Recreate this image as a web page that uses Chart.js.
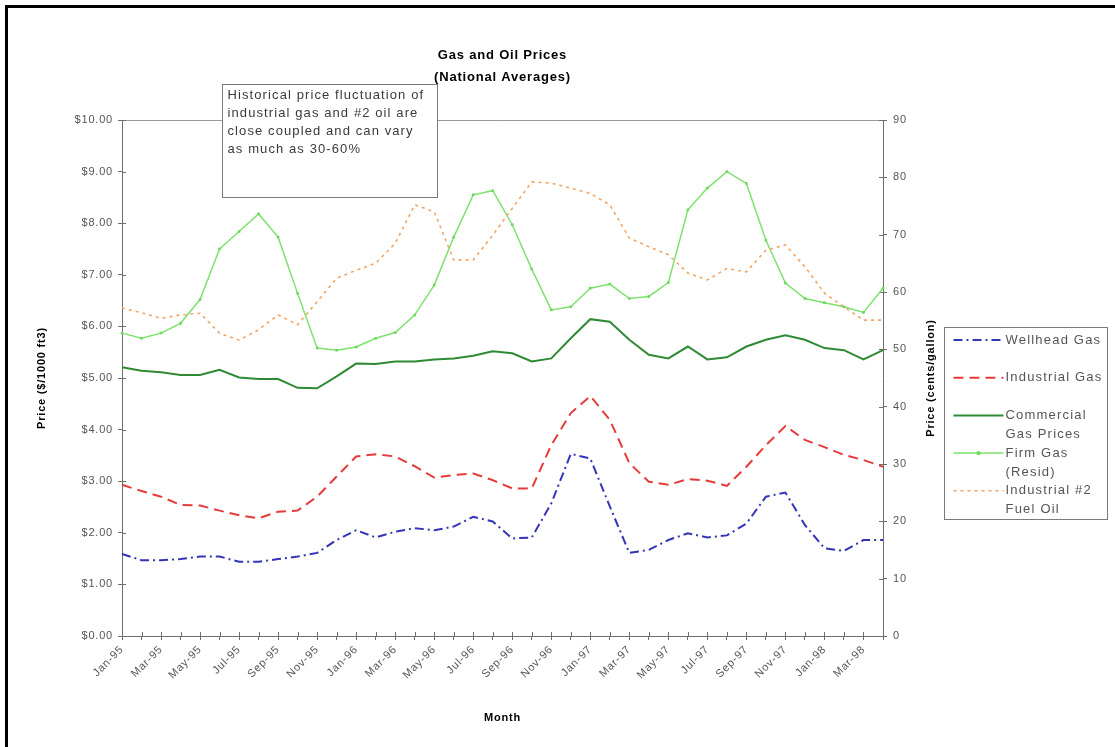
<!DOCTYPE html>
<html>
<head>
<meta charset="utf-8">
<title>Gas and Oil Prices</title>
<script src="https://cdn.jsdelivr.net/npm/chart.js@4.4.1/dist/chart.umd.min.js"></script>
<style>
  html, body { margin: 0; padding: 0; background: #fff; overflow: hidden; }
  #wrap { position: relative; width: 1115px; height: 747px; }
  #c { position: absolute; left: 0; top: 0; }
  #frame { position: absolute; left: 5px; top: 5px; width: 1300px; height: 900px;
           border-left: 3px solid #000; border-top: 3px solid #000; pointer-events: none; }
</style>
</head>
<body>
<div id="wrap">
  <canvas id="c" width="1115" height="747"></canvas>
  <div id="frame"></div>
</div>
<script>
// Monthly categories, Jan 1995 - Apr 1998
const months = [
  'Jan-95','Feb-95','Mar-95','Apr-95','May-95','Jun-95','Jul-95','Aug-95','Sep-95','Oct-95','Nov-95','Dec-95',
  'Jan-96','Feb-96','Mar-96','Apr-96','May-96','Jun-96','Jul-96','Aug-96','Sep-96','Oct-96','Nov-96','Dec-96',
  'Jan-97','Feb-97','Mar-97','Apr-97','May-97','Jun-97','Jul-97','Aug-97','Sep-97','Oct-97','Nov-97','Dec-97',
  'Jan-98','Feb-98','Mar-98','Apr-98'
];

// Gas prices, $ per 1000 ft3 (left axis)
const wellheadGas = [
  1.59, 1.47, 1.47, 1.49, 1.54, 1.54, 1.44, 1.44, 1.49, 1.54, 1.61, 1.86,
  2.05, 1.91, 2.02, 2.09, 2.05, 2.12, 2.31, 2.22, 1.89, 1.91, 2.57, 3.53,
  3.44, 2.51, 1.61, 1.67, 1.86, 1.99, 1.91, 1.95, 2.18, 2.70, 2.78, 2.15,
  1.70, 1.65, 1.86, 1.86
];
const industrialGas = [
  2.93, 2.81, 2.70, 2.54, 2.53, 2.43, 2.34, 2.28, 2.41, 2.43, 2.70, 3.09,
  3.48, 3.52, 3.48, 3.29, 3.07, 3.12, 3.15, 3.02, 2.86, 2.86, 3.70, 4.32,
  4.65, 4.19, 3.35, 2.99, 2.93, 3.04, 3.01, 2.91, 3.28, 3.70, 4.07, 3.80,
  3.66, 3.51, 3.41, 3.28
];
const commercialGas = [
  5.21, 5.14, 5.11, 5.06, 5.06, 5.16, 5.01, 4.98, 4.98, 4.81, 4.80, 5.03,
  5.28, 5.27, 5.32, 5.32, 5.36, 5.38, 5.43, 5.52, 5.48, 5.32, 5.38, 5.77,
  6.14, 6.09, 5.74, 5.45, 5.38, 5.61, 5.36, 5.40, 5.61, 5.74, 5.83, 5.74,
  5.58, 5.54, 5.36, 5.54
];
const firmGasResid = [
  5.87, 5.77, 5.87, 6.06, 6.52, 7.50, 7.84, 8.18, 7.73, 6.64, 5.58, 5.54,
  5.60, 5.77, 5.88, 6.22, 6.80, 7.73, 8.55, 8.63, 7.97, 7.11, 6.32, 6.38,
  6.74, 6.82, 6.54, 6.58, 6.85, 8.26, 8.68, 9.00, 8.77, 7.67, 6.84, 6.54,
  6.46, 6.38, 6.27, 6.74
];
// #2 fuel oil, cents per gallon (right axis)
const fuelOil2 = [
  57.2, 56.4, 55.4, 56.0, 56.3, 52.8, 51.6, 53.4, 56.0, 54.3, 58.3, 62.4,
  63.8, 65.0, 68.5, 75.2, 74.0, 65.6, 65.6, 69.9, 74.6, 79.2, 79.0, 78.1,
  77.2, 75.2, 69.4, 67.9, 66.5, 63.3, 62.1, 64.1, 63.5, 67.3, 68.2, 64.4,
  59.8, 57.4, 55.1, 55.1
];

// Axis ranges and tick steps
const dollarAxis = { min: 0, max: 10, step: 1 };
const centsAxis  = { min: 0, max: 90, step: 10 };

const chartTitle = ['Gas and Oil Prices', '(National Averages)'];
const noteLines = [
  'Historical price fluctuation of',
  'industrial gas and #2 oil are',
  'close coupled and can vary',
  'as much as 30-60%'
];

const FONT = "'Liberation Sans', Arial, Helvetica, sans-serif";
const AXIS = '#6e6e6e';
const TICK = '#555555';

// Canvas text in this chart is set a little wide
const spacingPlugin = {
  id: 'spacing',
  beforeLayout(chart) { chart.ctx.letterSpacing = '0.8px'; },
  beforeDraw(chart) { chart.ctx.letterSpacing = '0.8px'; }
};

// Frame line on top of the plot area and cross-style tick marks inside it
const plotFramePlugin = {
  id: 'plotFrame',
  beforeDatasetsDraw(chart) {
    const { ctx, chartArea: a, scales } = chart;
    ctx.save();
    ctx.strokeStyle = '#9a9a9a';
    ctx.lineWidth = 1;
    ctx.beginPath();
    ctx.moveTo(a.left, Math.round(a.top) + 0.5);
    ctx.lineTo(a.right, Math.round(a.top) + 0.5);
    ctx.stroke();

    ctx.strokeStyle = AXIS;
    ctx.beginPath();
    scales.x.ticks.forEach((t, i) => {
      const px = Math.round(scales.x.getPixelForTick(i)) + 0.5;
      ctx.moveTo(px, a.bottom);
      ctx.lineTo(px, a.bottom - 4);
    });
    scales.y.ticks.forEach((t, i) => {
      const py = Math.round(scales.y.getPixelForTick(i)) + 0.5;
      ctx.moveTo(a.left, py);
      ctx.lineTo(a.left + 4, py);
    });
    scales.y2.ticks.forEach((t, i) => {
      const py = Math.round(scales.y2.getPixelForTick(i)) + 0.5;
      ctx.moveTo(a.right, py);
      ctx.lineTo(a.right - 4, py);
    });
    ctx.stroke();
    ctx.restore();
  }
};

// Right axis title, note box and boxed legend
const annotationPlugin = {
  id: 'annotations',
  afterDraw(chart) {
    const { ctx, chartArea: a } = chart;
    ctx.save();

    // right axis title, reading bottom to top
    ctx.letterSpacing = '0.8px';
    ctx.font = `bold 11px ${FONT}`;
    ctx.fillStyle = '#000';
    ctx.textAlign = 'center';
    ctx.textBaseline = 'middle';
    ctx.save();
    ctx.translate(a.right + 48, (a.top + a.bottom) / 2);
    ctx.rotate(-Math.PI / 2);
    ctx.fillText('Price (cents/gallon)', 0, 0);
    ctx.restore();

    // note box
    const nb = { x: 222.5, y: 84.5, w: 215, h: 113 };
    ctx.fillStyle = '#fff';
    ctx.fillRect(nb.x, nb.y, nb.w, nb.h);
    ctx.strokeStyle = '#7a7a7a';
    ctx.lineWidth = 1;
    ctx.strokeRect(nb.x, nb.y, nb.w, nb.h);
    ctx.letterSpacing = '1.1px';
    ctx.font = `13px ${FONT}`;
    ctx.fillStyle = '#3a3a3a';
    ctx.textAlign = 'left';
    ctx.textBaseline = 'middle';
    noteLines.forEach((line, i) => ctx.fillText(line, nb.x + 5, nb.y + 11 + i * 18));

    // legend
    const lg = { x: 944.5, y: 327.5, w: 163, h: 192 };
    ctx.fillStyle = '#fff';
    ctx.fillRect(lg.x, lg.y, lg.w, lg.h);
    ctx.strokeStyle = '#7a7a7a';
    ctx.strokeRect(lg.x, lg.y, lg.w, lg.h);

    const maxTextW = 100;
    chart.data.datasets.forEach((ds, i) => {
      const y = lg.y + 12.5 + i * 37.7;
      // sample line
      ctx.save();
      ctx.strokeStyle = ds.borderColor;
      ctx.lineWidth = ds.borderWidth;
      ctx.setLineDash(ds.borderDash || []);
      ctx.beginPath();
      ctx.moveTo(lg.x + 9, y);
      ctx.lineTo(lg.x + 59, y);
      ctx.stroke();
      if (ds.pointRadius > 0) {
        ctx.fillStyle = ds.pointBackgroundColor;
        const r = ds.pointRadius;
        ctx.fillRect(lg.x + 34 - r, y - r, 2 * r, 2 * r);
      }
      ctx.restore();
      // wrapped label
      ctx.letterSpacing = '1.2px';
      ctx.font = `13px ${FONT}`;
      ctx.fillStyle = '#555';
      ctx.textAlign = 'left';
      ctx.textBaseline = 'middle';
      const words = ds.label.split(' ');
      const lines = [];
      let cur = '';
      words.forEach(w => {
        const test = cur ? cur + ' ' + w : w;
        if (cur && ctx.measureText(test).width > maxTextW) { lines.push(cur); cur = w; }
        else cur = test;
      });
      lines.push(cur);
      lines.forEach((ln, k) => ctx.fillText(ln, lg.x + 61, y + k * 19));
    });
    ctx.restore();
  }
};

new Chart(document.getElementById('c'), {
  type: 'line',
  data: {
    labels: months,
    datasets: [
      { label: 'Wellhead Gas', data: wellheadGas, yAxisID: 'y',
        borderColor: '#3434b8', borderWidth: 2, borderDash: [9, 4, 2, 4],
        pointRadius: 0, tension: 0, order: 5 },
      { label: 'Industrial Gas', data: industrialGas, yAxisID: 'y',
        borderColor: '#e63b3b', borderWidth: 2, borderDash: [10, 6],
        pointRadius: 0, tension: 0, order: 4 },
      { label: 'Commercial Gas Prices', data: commercialGas, yAxisID: 'y',
        borderColor: '#2f8a34', borderWidth: 2,
        pointRadius: 0, tension: 0, order: 3 },
      { label: 'Firm Gas (Resid)', data: firmGasResid, yAxisID: 'y',
        borderColor: '#7ee26e', borderWidth: 1.5,
        pointRadius: 1.8, pointStyle: 'rect', pointBackgroundColor: '#6cd85c',
        pointBorderColor: '#6cd85c', pointBorderWidth: 0, tension: 0, order: 2 },
      { label: 'Industrial #2 Fuel Oil', data: fuelOil2, yAxisID: 'y2',
        borderColor: '#f2a463', borderWidth: 1.6, borderDash: [3, 4],
        pointRadius: 0, tension: 0, order: 1 }
    ]
  },
  options: {
    responsive: false,
    animation: false,
    events: [],
    layout: { padding: { top: 0, right: 170, bottom: 0, left: 0 } },
    plugins: {
      legend: { display: false },
      tooltip: { enabled: false },
      title: {
        display: true, text: chartTitle, color: '#000', fullSize: false,
        font: { family: FONT, size: 13, weight: 'bold', lineHeight: 1.7 },
        padding: { top: 44, bottom: 31.8 }
      }
    },
    scales: {
      x: {
        type: 'category', offset: false,
        grid: { display: true, drawOnChartArea: false, drawTicks: true, tickLength: 4, color: AXIS },
        border: { display: true, color: AXIS, width: 1 },
        ticks: {
          autoSkip: false, maxRotation: 45, minRotation: 45, padding: 3, color: TICK,
          font: { family: FONT, size: 11 },
          callback: (v, i) => (i % 2 === 0 ? months[i] : '')
        },
        title: { display: true, text: 'Month', color: '#000',
                 font: { family: FONT, size: 11, weight: 'bold' }, padding: { top: 0, bottom: 22 } },
        afterFit: s => { s.height = 111; }
      },
      y: {
        position: 'left', min: dollarAxis.min, max: dollarAxis.max,
        grid: { display: true, drawOnChartArea: false, drawTicks: true, tickLength: 4, color: AXIS },
        border: { display: true, color: AXIS, width: 1 },
        ticks: { stepSize: dollarAxis.step, padding: 5, color: TICK, font: { family: FONT, size: 11 },
                 callback: v => '$' + Number(v).toFixed(2) },
        title: { display: true, text: 'Price ($/1000 ft3)', color: '#000',
                 font: { family: FONT, size: 11, weight: 'bold' }, padding: { top: 35, bottom: 0 } },
        afterFit: s => { s.width = 122; }
      },
      y2: {
        position: 'right', min: centsAxis.min, max: centsAxis.max,
        grid: { display: true, drawOnChartArea: false, drawTicks: true, tickLength: 4, color: AXIS },
        border: { display: true, color: AXIS, width: 1 },
        ticks: { stepSize: centsAxis.step, padding: 6, color: TICK, font: { family: FONT, size: 11 } },
        afterFit: s => { s.width = 62; }
      }
    }
  },
  plugins: [spacingPlugin, plotFramePlugin, annotationPlugin]
});
</script>
</body>
</html>
